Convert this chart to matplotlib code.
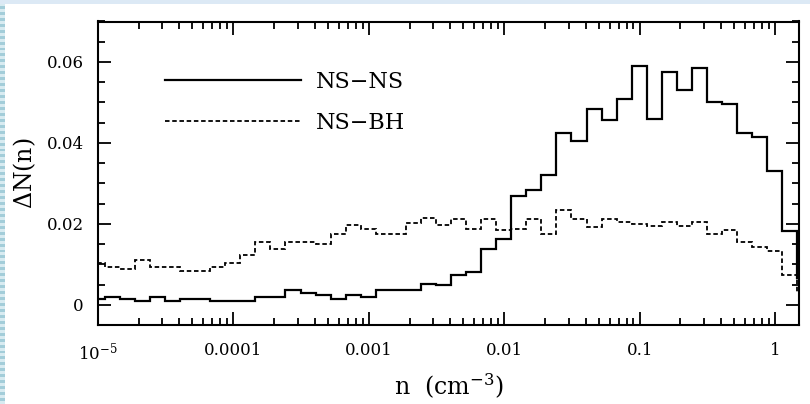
import numpy as np
import matplotlib
matplotlib.use("Agg")
import matplotlib.pyplot as plt
from matplotlib.ticker import FixedLocator, FixedFormatter, LogLocator, MultipleLocator, NullFormatter
from matplotlib.patches import Rectangle

plt.rcParams['font.family'] = ['DejaVu Serif']
plt.rcParams['mathtext.fontset'] = 'dejavuserif'

# histogram bins: 9 per decade in log10(n), edges
log_edge0 = -5.059
bin_width = 1.0 / 9
n_bins = 48
edges = 10 ** (log_edge0 + bin_width * np.arange(n_bins + 1))

ns_ns = [0.0015, 0.0019, 0.0014, 0.0009, 0.0019, 0.0009, 0.0015, 0.0015,
         0.0009, 0.0009, 0.0009, 0.0019, 0.0019, 0.0036, 0.0028, 0.0023,
         0.0015, 0.0023, 0.0019, 0.0036, 0.0036, 0.0036, 0.0052, 0.0048,
         0.0074, 0.0081, 0.0139, 0.0163, 0.0270, 0.0284, 0.0320, 0.0424,
         0.0404, 0.0484, 0.0456, 0.0509, 0.0591, 0.0458, 0.0575, 0.0530,
         0.0586, 0.0500, 0.0495, 0.0424, 0.0414, 0.0330, 0.0182, 0.0065]

ns_bh = [0.0102, 0.0093, 0.0088, 0.0110, 0.0093, 0.0093, 0.0083, 0.0083,
         0.0093, 0.0104, 0.0124, 0.0155, 0.0139, 0.0155, 0.0155, 0.0149,
         0.0176, 0.0196, 0.0186, 0.0174, 0.0174, 0.0202, 0.0214, 0.0196,
         0.0213, 0.0188, 0.0213, 0.0184, 0.0188, 0.0213, 0.0174, 0.0233,
         0.0213, 0.0192, 0.0213, 0.0204, 0.0200, 0.0194, 0.0204, 0.0194,
         0.0204, 0.0174, 0.0184, 0.0155, 0.0143, 0.0133, 0.0073, 0.0030]

x_ticks = [1e-5, 1e-4, 1e-3, 1e-2, 1e-1, 1]
x_labels = [r'$10^{-5}$', '0.0001', '0.001', '0.01', '0.1', '1']
y_ticks = [0, 0.02, 0.04, 0.06]
y_labels = ['0', '0.02', '0.04', '0.06']

fig = plt.figure(figsize=(8.1, 4.04), dpi=100)

# light blue page border (top band and striped left band)
fig.add_artist(Rectangle((0, 1 - 4 / 404), 1, 4 / 404, transform=fig.transFigure,
                         facecolor='#dce9f5', edgecolor='none'))
strip = fig.add_axes([0, 0, 5 / 810, 1])
stripes = np.tile([[0.0], [1.0]], (68, 1))
strip.imshow(stripes, aspect='auto', cmap=matplotlib.colors.ListedColormap(['#a3cdd9', '#d8ebf1']),
             interpolation='nearest')
strip.axis('off')

ax = fig.add_axes([97.8 / 810, 1 - 325 / 404, 701.2 / 810, 303.5 / 404])

ax.stairs(ns_ns, edges, baseline=None, color='black', linewidth=1.6, label='NS\u2212NS')
ax.stairs(ns_bh, edges, baseline=None, color='black', linewidth=1.3,
          linestyle=(0, (2.5, 1.5)), label='NS\u2212BH')

ax.set_xscale('log')
ax.set_xlim(1e-5, 1.5)
ax.set_ylim(-0.005, 0.07)

ax.xaxis.set_major_locator(FixedLocator(x_ticks))
ax.xaxis.set_major_formatter(FixedFormatter(x_labels))
ax.xaxis.set_minor_locator(LogLocator(base=10, subs=np.arange(2, 10)))
ax.xaxis.set_minor_formatter(NullFormatter())
ax.yaxis.set_major_locator(FixedLocator(y_ticks))
ax.yaxis.set_major_formatter(FixedFormatter(y_labels))
ax.yaxis.set_minor_locator(MultipleLocator(0.005))

ax.tick_params(which='both', direction='in', top=True, right=True, width=1.3, colors='black')
ax.tick_params(which='major', length=9.5, labelsize=12)
ax.tick_params(which='minor', length=5)
ax.tick_params(axis='x', which='major', pad=12)
ax.tick_params(axis='y', which='major', pad=10)
for s in ax.spines.values():
    s.set_linewidth(1.5)

ax.set_xlabel(r'n  (cm$^{-3}$)', fontsize=17, labelpad=6)
ax.set_ylabel(r'$\Delta$N(n)', fontsize=17, labelpad=6)

ax.legend(loc='upper left', bbox_to_anchor=(0.0958, 0.838), frameon=False,
          fontsize=16, handlelength=6.1, handletextpad=0.68, labelspacing=0.85,
          borderpad=0, borderaxespad=0)

fig.savefig('out.png', dpi=100, facecolor='white')
